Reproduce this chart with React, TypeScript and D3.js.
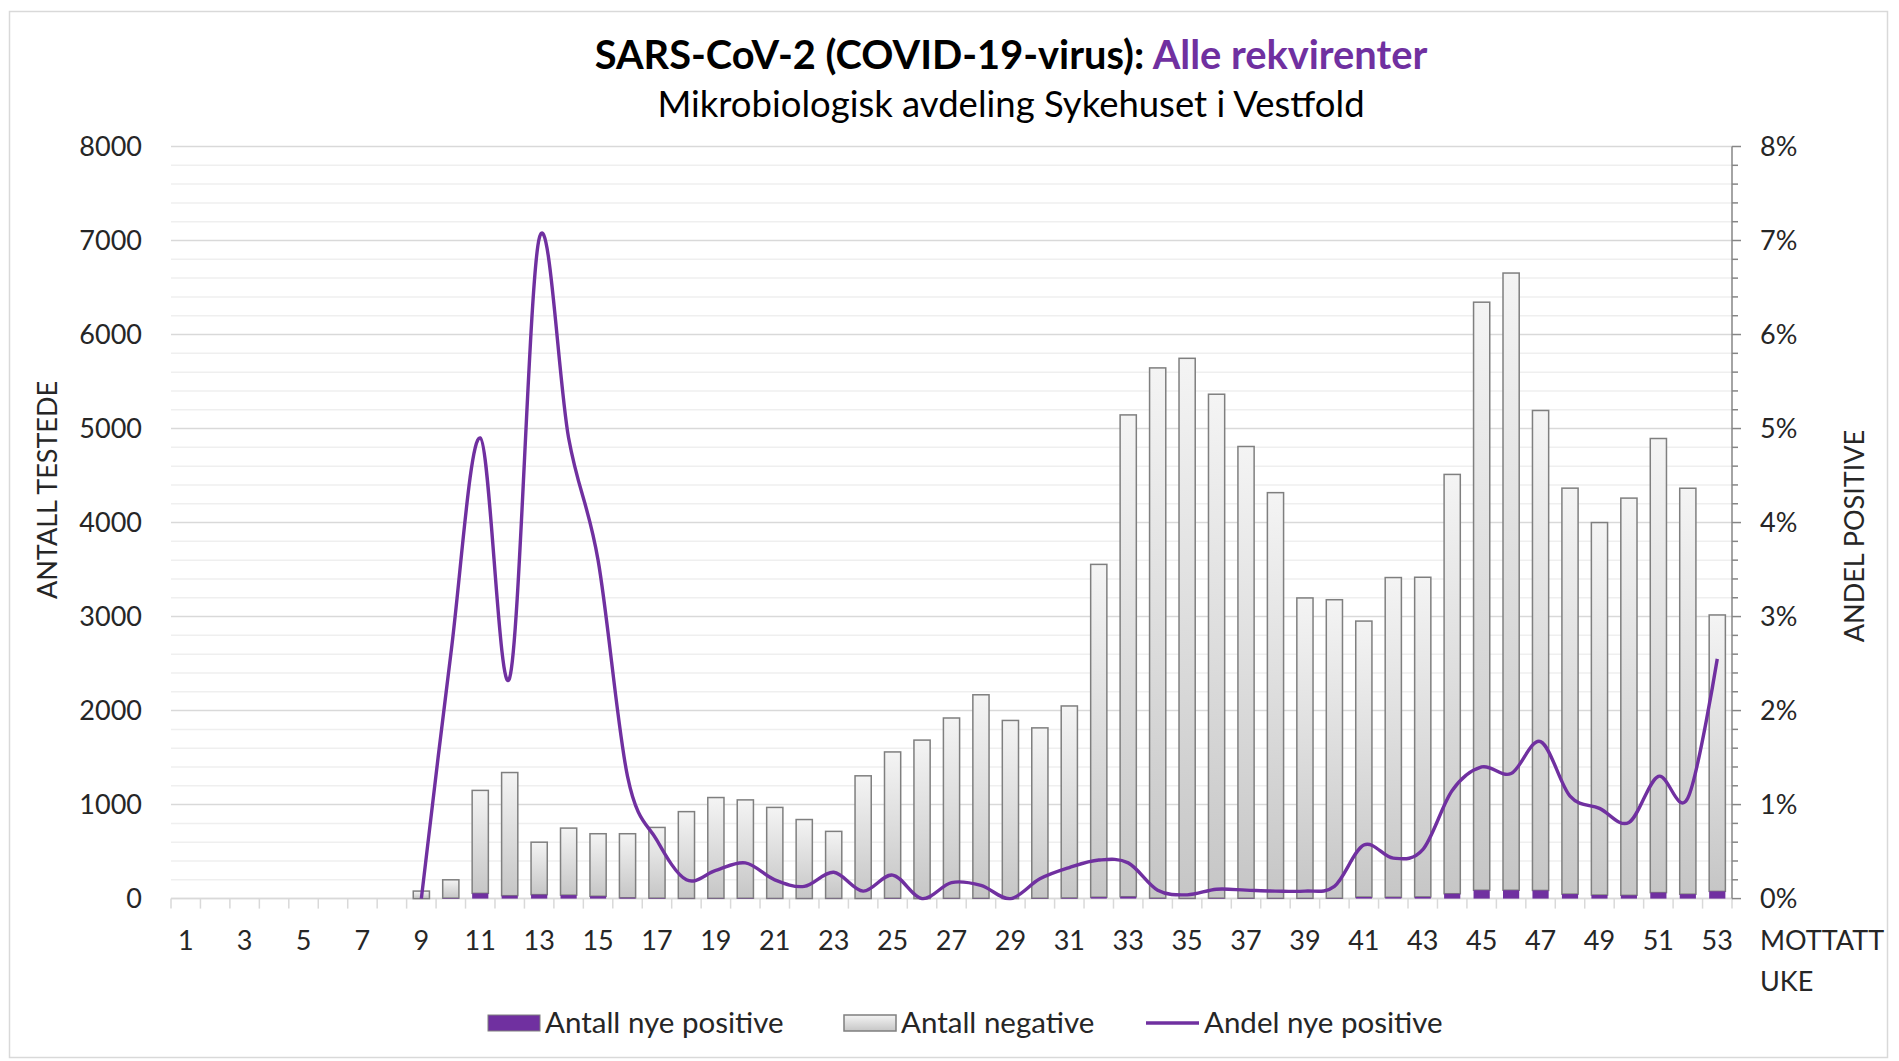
import React from 'react';
import * as d3 from 'd3';

// uke 1-53
const weeks = d3.range(1, 54).map(String);

const positives = [
  0, 0, 0, 0, 0, 0, 0, 0, 0, 5,
  56, 31, 42, 37, 25, 9, 5, 2, 3, 4,
  2, 1, 2, 1, 4, 0, 3, 3, 0, 4,
  7, 15, 20, 5, 2, 5, 4, 3, 3, 4,
  17, 15, 18, 52, 89, 89, 87, 48, 38, 35,
  64, 47, 77,
];

const negatives = [
  0, 0, 0, 0, 0, 0, 0, 0, 80, 195,
  1095, 1310, 558, 713, 665, 681, 752, 923, 1072, 1046,
  968, 840, 713, 1305, 1556, 1686, 1918, 2165, 1895, 1812,
  2042, 3540, 5125, 5640, 5745, 5360, 4805, 4315, 3195, 3175,
  2935, 3400, 3400, 4460, 6255, 6565, 5105, 4318, 3962, 4225,
  4830, 4318, 2940,
];

// andel nye positive (brøk)
const shares: (number | null)[] = [
  null, null, null, null, null, null, null, null, 0, 0.026,
  0.049, 0.0235, 0.0702, 0.049, 0.036, 0.013, 0.0062, 0.002, 0.003, 0.0038,
  0.002, 0.0013, 0.0028, 0.0008, 0.0025, 0, 0.0017, 0.0014, 0, 0.0021,
  0.0033, 0.0041, 0.0038, 0.0009, 0.0004, 0.001, 0.0009, 0.0008, 0.0008, 0.0013,
  0.0057, 0.0043, 0.0052, 0.0115, 0.014, 0.0133, 0.0167, 0.0109, 0.0096, 0.0081,
  0.013, 0.0107, 0.0255,
];

const countTicks = [0, 1000, 2000, 3000, 4000, 5000, 6000, 7000, 8000];
const minorCountTicks = d3.range(0, 8001, 200);
const shareTicks = [0, 0.01, 0.02, 0.03, 0.04, 0.05, 0.06, 0.07, 0.08];
const minorShareTicks = d3.range(0, 41).map((i) => i * 0.002);

const PURPLE = '#7030A0';
const FONT = 'Lato, "Open Sans", sans-serif';

const W = 1899;
const H = 1061;
const plot = { left: 171, right: 1732, top: 146.5, bottom: 898.6 };

export default function App() {
  const x = d3.scaleBand<string>()
    .domain(weeks)
    .range([plot.left, plot.right])
    .paddingInner(0.45)
    .paddingOuter(0.225);

  const y = d3.scaleLinear().domain([0, 8000]).range([plot.bottom, plot.top]);
  const yPct = d3.scaleLinear().domain([0, 0.08]).range([plot.bottom, plot.top]);

  const step = x.step();
  const bw = x.bandwidth();
  const cx = (w: string) => (x(w) as number) + bw / 2;

  const line = d3.line<number | null>()
    .defined((d) => d !== null)
    .x((_, i) => cx(weeks[i]))
    .y((d) => yPct(d as number))
    .curve(d3.curveCardinal.tension(0));

  const tickFont = 27;

  return (
    <div style={{ position: 'fixed', left: 0, top: 0 }}>
      <svg width={W} height={H} style={{ display: 'block', background: '#fff' }}>
        <defs>
          <linearGradient id="negGrad" x1="0" y1="0" x2="0" y2="1">
            <stop offset="0%" stopColor="#f4f4f4" />
            <stop offset="100%" stopColor="#c6c6c6" />
          </linearGradient>
        </defs>

        <rect x={9.5} y={11.5} width={1878} height={1046} fill="#fff" stroke="#d9d9d9" strokeWidth={1.5} />

        {/* tittel */}
        <text x={1011} y={69} textAnchor="middle" fontFamily={FONT} fontSize={39.8} fontWeight="bold" fill="#000">
          <tspan>SARS-CoV-2 (COVID-19-virus): </tspan>
          <tspan fill={PURPLE}>Alle rekvirenter</tspan>
        </text>
        <text x={1011} y={117} textAnchor="middle" fontFamily={FONT} fontSize={36.5} fill="#000">
          Mikrobiologisk avdeling Sykehuset i Vestfold
        </text>

        {/* rutenett */}
        {minorCountTicks.map((t) => (
          <line key={'m' + t} x1={plot.left} x2={plot.right} y1={y(t)} y2={y(t)}
            stroke={t % 1000 === 0 ? '#d9d9d9' : '#efefef'} strokeWidth={1.5} />
        ))}

        {/* x-akse */}
        <line x1={plot.left} x2={plot.right} y1={plot.bottom} y2={plot.bottom} stroke="#d9d9d9" strokeWidth={1.5} />
        {d3.range(0, weeks.length + 1).map((i) => (
          <line key={'xt' + i} x1={plot.left + i * step} x2={plot.left + i * step}
            y1={plot.bottom} y2={plot.bottom + 10} stroke="#d9d9d9" strokeWidth={1.5} />
        ))}

        {/* stolper */}
        {weeks.map((w, i) => {
          const pos = positives[i];
          const neg = negatives[i];
          if (pos + neg === 0) return null;
          return (
            <g key={'b' + w}>
              {neg > 0 && (
                <rect x={x(w)} y={y(pos + neg)} width={bw} height={y(pos) - y(pos + neg)}
                  fill="url(#negGrad)" stroke="#7f7f7f" strokeWidth={1.5} />
              )}
              {pos > 0 && (
                <rect x={x(w)} y={y(pos)} width={bw} height={y(0) - y(pos)} fill={PURPLE} />
              )}
            </g>
          );
        })}

        {/* høyre akse */}
        <line x1={plot.right} x2={plot.right} y1={plot.top} y2={plot.bottom} stroke="#868686" strokeWidth={1.5} />
        {minorShareTicks.map((t, i) => (
          <line key={'rt' + i} x1={plot.right} x2={plot.right + (i % 5 === 0 ? 9 : 6)}
            y1={yPct(t)} y2={yPct(t)} stroke="#868686" strokeWidth={1.5} />
        ))}

        {/* andel-linje */}
        <path d={line(shares) || ''} fill="none" stroke={PURPLE} strokeWidth={3.4} strokeLinejoin="round" />

        {/* akseetiketter */}
        {countTicks.map((t) => (
          <text key={'yl' + t} x={142} y={y(t)} dy="0.35em" textAnchor="end"
            fontFamily={FONT} fontSize={tickFont} fill="#262626">{t}</text>
        ))}
        {shareTicks.map((t) => (
          <text key={'pl' + t} x={1760} y={yPct(t)} dy="0.35em" textAnchor="start"
            fontFamily={FONT} fontSize={tickFont} fill="#262626">{d3.format('.0%')(t)}</text>
        ))}
        {weeks.map((w, i) => i % 2 === 0 && (
          <text key={'xl' + w} x={cx(w)} y={941} dy="0.35em" textAnchor="middle"
            fontFamily={FONT} fontSize={tickFont} fill="#262626">{w}</text>
        ))}
        <text x={1760} y={941} dy="0.35em" fontFamily={FONT} fontSize={tickFont} fill="#262626">MOTTATT</text>
        <text x={1760} y={982} dy="0.35em" fontFamily={FONT} fontSize={tickFont} fill="#262626">UKE</text>

        <text transform="translate(48,490) rotate(-90)" textAnchor="middle" dy="0.35em"
          fontFamily={FONT} fontSize={27} fill="#262626">ANTALL TESTEDE</text>
        <text transform="translate(1855,536) rotate(-90)" textAnchor="middle" dy="0.35em"
          fontFamily={FONT} fontSize={27} fill="#262626">ANDEL POSITIVE</text>

        {/* tegnforklaring */}
        <g fontFamily={FONT} fontSize={29.5} fill="#262626">
          <rect x={488} y={1015} width={52} height={16} fill={PURPLE} stroke="#7f7f7f" strokeWidth={1} />
          <text x={545} y={1023} dy="0.35em">Antall nye positive</text>
          <rect x={844} y={1015} width={52} height={16} fill="url(#negGrad)" stroke="#7f7f7f" strokeWidth={1.5} />
          <text x={901} y={1023} dy="0.35em">Antall negative</text>
          <line x1={1146} x2={1199} y1={1023} y2={1023} stroke={PURPLE} strokeWidth={3.4} />
          <text x={1204} y={1023} dy="0.35em">Andel nye positive</text>
        </g>
      </svg>
    </div>
  );
}
